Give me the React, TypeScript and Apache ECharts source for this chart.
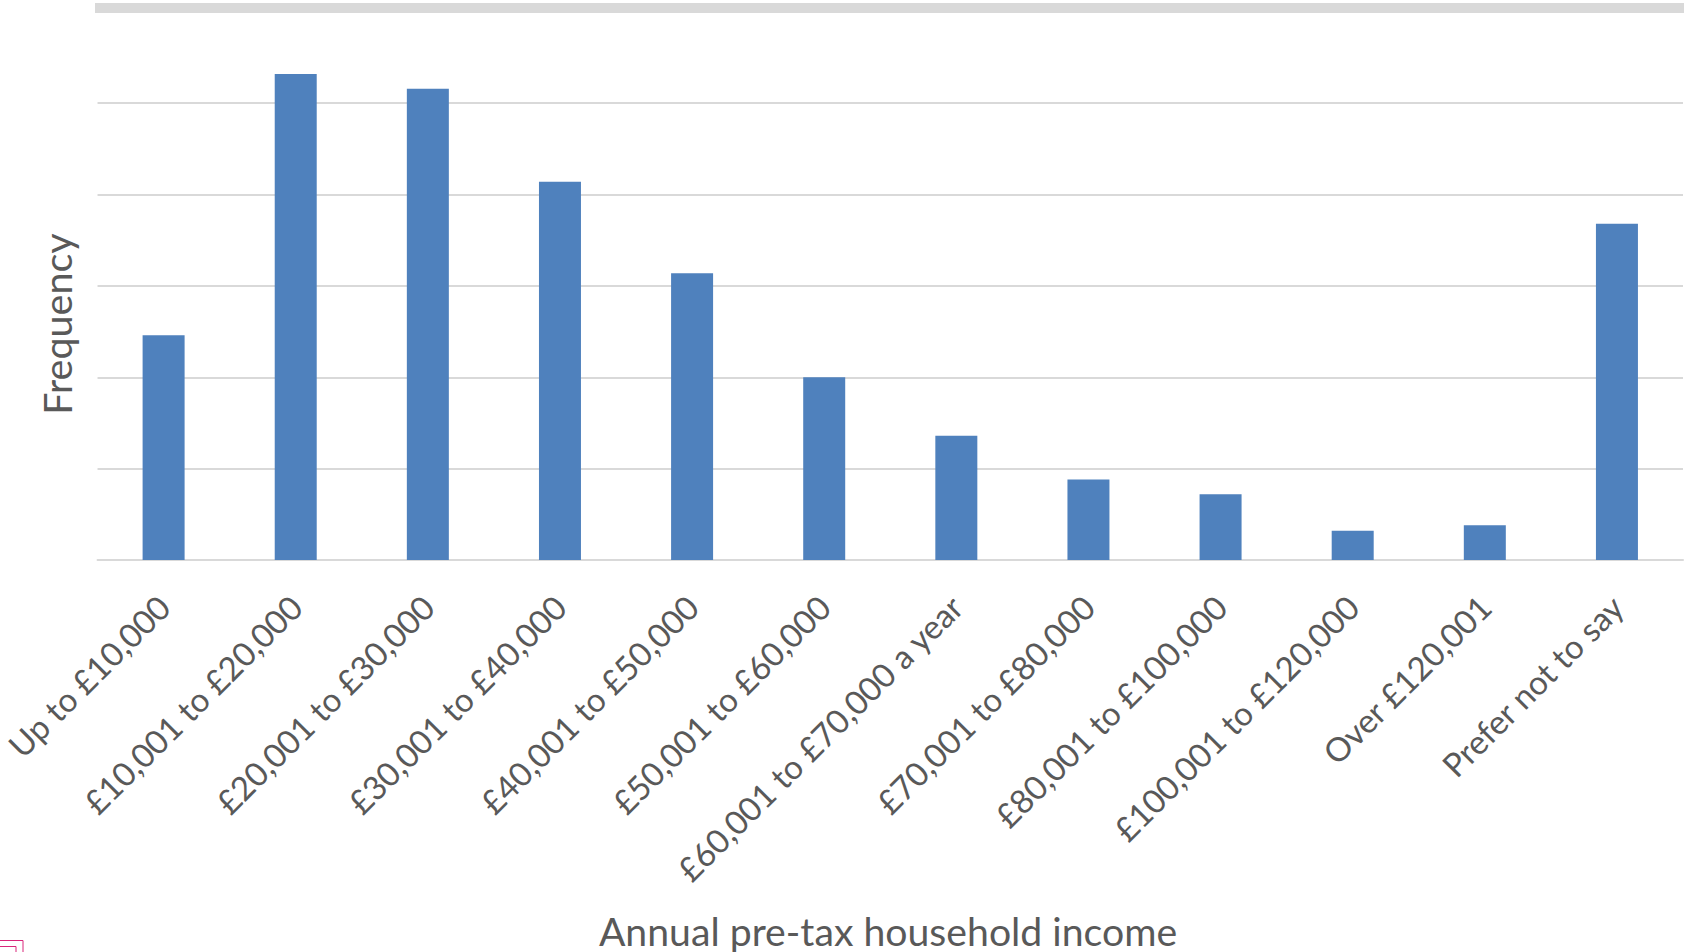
import React, { useEffect, useRef } from "react";
import * as echarts from "echarts";

const categories: string[] = [
  "Up to £10,000",
  "£10,001 to £20,000",
  "£20,001 to £30,000",
  "£30,001 to £40,000",
  "£40,001 to £50,000",
  "£50,001 to £60,000",
  "£60,001 to £70,000 a year",
  "£70,001 to £80,000",
  "£80,001 to £100,000",
  "£100,001 to £120,000",
  "Over £120,001",
  "Prefer not to say",
];

const frequency: number[] = [123, 266, 258, 207, 157, 100, 68, 44, 36, 16, 19, 184];

const yMin = 0;
const yMax = 300;
const yInterval = 50;

const xTitle = "Annual pre-tax household income";
const yTitle = "Frequency";

const FONT = "Lato, 'Open Sans', sans-serif";
const TEXT = "#595959";
const GRIDC = "#d9d9d9";
const BAR = "#4f81bd";

export default function App() {
  const ref = useRef<HTMLDivElement>(null);
  useEffect(() => {
    if (!ref.current) return;
    const chart = echarts.init(ref.current, undefined, { renderer: "svg" });
    chart.setOption({
      animation: false,
      backgroundColor: "#ffffff",
      textStyle: { fontFamily: FONT },
      grid: { left: 96, right: 1, top: 11.9, bottom: 392, containLabel: false },
      xAxis: {
        type: "category",
        data: categories,
        axisLine: { show: true, lineStyle: { color: GRIDC, width: 2 } },
        axisTick: { show: false },
        axisLabel: {
          rotate: 45,
          interval: 0,
          margin: 41,
          color: TEXT,
          fontSize: 33,
          fontFamily: FONT,
        },
      },
      yAxis: {
        type: "value",
        min: yMin,
        max: yMax,
        interval: yInterval,
        axisLabel: { show: false },
        axisLine: { show: false },
        axisTick: { show: false },
        splitLine: { show: true, lineStyle: { color: GRIDC, width: 2 } },
      },
      series: [
        {
          type: "bar",
          data: frequency,
          barWidth: 42,
          itemStyle: { color: BAR },
        },
      ],
      graphic: [
        {
          type: "rect",
          shape: { x: 95, y: 3, width: 1589, height: 10 },
          style: { fill: GRIDC },
          z: 100,
        },
        {
          type: "text",
          x: 56,
          y: 324,
          rotation: Math.PI / 2,
          style: {
            text: yTitle,
            fill: TEXT,
            fontSize: 39.5,
            fontFamily: FONT,
            textAlign: "center",
            textVerticalAlign: "middle",
          },
        },
        {
          type: "text",
          x: 888,
          y: 930,
          style: {
            text: xTitle,
            fill: TEXT,
            fontSize: 39.2,
            fontFamily: FONT,
            textAlign: "center",
            textVerticalAlign: "middle",
          },
        },
        {
          type: "rect",
          shape: { x: -2, y: 940.5, width: 25, height: 20 },
          style: { fill: "none", stroke: "#d9267a", lineWidth: 1 },
        },
        {
          type: "rect",
          shape: { x: -2, y: 946.5, width: 18, height: 20 },
          style: { fill: "none", stroke: "#d9267a", lineWidth: 1 },
        },
      ],
    });
    return () => chart.dispose();
  }, []);
  return (
    <div
      ref={ref}
      style={{ position: "absolute", left: 0, top: 0, width: 1684, height: 952 }}
    />
  );
}
